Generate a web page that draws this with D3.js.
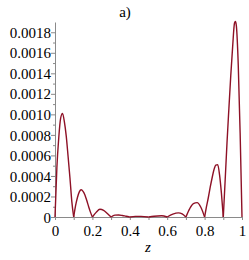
<!DOCTYPE html>
<html>
<head>
<meta charset="utf-8">
<script src="https://cdn.jsdelivr.net/npm/d3@7"></script>
<style>
  body { margin: 0; background: #fff; }
  svg { display: block; }
  text { font-family: "Liberation Serif", "DejaVu Serif", serif; }
</style>
</head>
<body>
<svg id="chart" width="249" height="260"></svg>
<script>
// values (y in units of 1e-4)
var zVals = [0, 0.01, 0.02, 0.03, 0.04, 0.05, 0.06, 0.07, 0.08, 0.09, 0.1,
  0.11, 0.12, 0.13, 0.14, 0.15, 0.16, 0.17, 0.18, 0.19, 0.2,
  0.22, 0.24, 0.26, 0.28, 0.3,
  0.32, 0.34, 0.36, 0.38, 0.4,
  0.43, 0.46, 0.5,
  0.53, 0.57, 0.6,
  0.63, 0.66, 0.68, 0.7,
  0.72, 0.74, 0.76, 0.78, 0.8,
  0.81, 0.82, 0.83, 0.84, 0.85, 0.86, 0.87, 0.88, 0.89, 0.9,
  0.91, 0.92, 0.93, 0.94, 0.95, 0.96, 0.965, 0.97, 0.98, 0.99, 1.0];
var yVals = [0, 4.8, 7.7, 9.6, 10.1, 9.3, 7.9, 5.9, 3.8, 1.5, 0,
  1.1, 1.9, 2.45, 2.65, 2.5, 2.15, 1.6, 1.0, 0.45, 0,
  0.45, 0.75, 0.65, 0.35, 0,
  0.18, 0.2, 0.15, 0.07, 0,
  0.06, 0.06, 0,
  0.08, 0.12, 0,
  0.28, 0.4, 0.3, 0,
  0.8, 1.3, 1.4, 0.95, 0,
  1.0, 1.9, 2.9, 3.8, 4.6, 5.05, 5.1, 4.1, 2.3, 0,
  3.6, 7.3, 10.6, 13.8, 16.6, 18.9, 19.05, 18.6, 14.8, 8.2, 0];

var xTicks = [0, 0.1, 0.2, 0.3, 0.4, 0.5, 0.6, 0.7, 0.8, 0.9, 1];
var xTickLabels = ["0", "", "0.2", "", "0.4", "", "0.6", "", "0.8", "", "1"];
var yTicks = [0, 0.0002, 0.0004, 0.0006, 0.0008, 0.0010, 0.0012, 0.0014, 0.0016, 0.0018];
var yTickLabels = ["0", "0.0002", "0.0004", "0.0006", "0.0008", "0.0010", "0.0012", "0.0014", "0.0016", "0.0018"];
var yMinor = [0.0001, 0.0003, 0.0005, 0.0007, 0.0009, 0.0011, 0.0013, 0.0015, 0.0017];

var svg = d3.select("#chart");
var x = d3.scaleLinear().domain([0, 1]).range([55, 242]);
var y = d3.scaleLinear().domain([0, 0.0019]).range([217, 22]);
var axisCol = "#8a8a8a";

// y axis
var yAxis = svg.append("g").attr("transform", "translate(55,0)")
  .call(d3.axisLeft(y).tickValues(yTicks).tickSize(4).tickSizeOuter(0)
    .tickFormat(function(d, i) { return yTickLabels[i]; }));
svg.append("g").attr("transform", "translate(55,0)")
  .call(d3.axisLeft(y).tickValues(yMinor).tickSize(2).tickSizeOuter(0).tickFormat(""))
  .select(".domain").remove();

// x axis
var xAxis = svg.append("g").attr("transform", "translate(0,217)")
  .call(d3.axisBottom(x).tickValues(xTicks).tickSize(3).tickSizeOuter(0)
    .tickFormat(function(d, i) { return xTickLabels[i]; }));

svg.selectAll(".domain").attr("stroke", axisCol);
svg.selectAll(".tick line").attr("stroke", axisCol);
svg.selectAll(".tick text")
  .attr("fill", "#000")
  .style("font-family", "'Liberation Serif', serif")
  .style("font-size", "15px");
yAxis.selectAll(".tick text").attr("x", -4).attr("dy", "0.34em");
xAxis.selectAll(".tick text").attr("y", 8);

// curve, lobe by lobe so the zeros stay sharp
var pts = zVals.map(function(z, i) { return [z, yVals[i] * 1e-4]; });
var lobes = [], cur = [];
pts.forEach(function(p, i) {
  cur.push(p);
  if (p[1] === 0 && cur.length > 1) { lobes.push(cur); cur = [p]; }
});

var line = d3.line()
  .x(function(d) { return x(d[0]); })
  .y(function(d) { return y(d[1]); })
  .curve(d3.curveMonotoneX);

svg.append("g").selectAll("path").data(lobes).enter().append("path")
  .attr("d", line)
  .attr("fill", "none")
  .attr("stroke", "#8e1126")
  .attr("stroke-width", 1.4)
  .attr("stroke-linejoin", "round");

// title and axis label
svg.append("text").attr("x", 125).attr("y", 17)
  .attr("text-anchor", "middle").style("font-size", "15px").text("a)");
svg.append("text").attr("x", 148).attr("y", 252)
  .attr("text-anchor", "middle").style("font-size", "15px")
  .style("font-style", "italic").text("z");
</script>
</body>
</html>
